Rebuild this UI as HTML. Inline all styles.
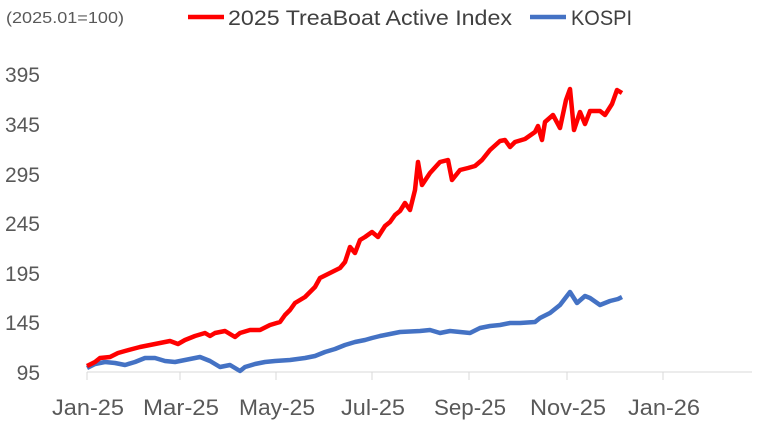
<!DOCTYPE html>
<html><head><meta charset="utf-8"><style>
body{margin:0;background:#fff;}
svg{display:block;font-family:"Liberation Sans",sans-serif;}
</style></head><body>
<svg width="776" height="425" viewBox="0 0 776 425">
<text x="6" y="23" font-size="16" fill="#595959" textLength="118" lengthAdjust="spacingAndGlyphs">(2025.01=100)</text>
<line x1="188" y1="17" x2="224" y2="17" stroke="#ff0000" stroke-width="4.5"/>
<text x="228" y="25" font-size="21" fill="#404040" textLength="284" lengthAdjust="spacingAndGlyphs">2025 TreaBoat Active Index</text>
<line x1="530" y1="17" x2="566" y2="17" stroke="#4472c4" stroke-width="4.5"/>
<text x="571" y="25" font-size="21" fill="#404040" textLength="61" lengthAdjust="spacingAndGlyphs">KOSPI</text>
<g font-size="21" fill="#595959" text-anchor="end">
<text x="40" y="380">95</text>
<text x="40" y="330">145</text>
<text x="40" y="281">195</text>
<text x="40" y="231">245</text>
<text x="40" y="182">295</text>
<text x="40" y="132">345</text>
<text x="40" y="82">395</text>
</g>
<line x1="87" y1="372" x2="752" y2="372" stroke="#d9d9d9" stroke-width="1"/>
<g stroke="#d9d9d9" stroke-width="1">
<line x1="87" y1="372" x2="87" y2="380"/><line x1="180" y1="372" x2="180" y2="380"/>
<line x1="276" y1="372" x2="276" y2="380"/><line x1="372" y1="372" x2="372" y2="380"/>
<line x1="469" y1="372" x2="469" y2="380"/><line x1="567" y1="372" x2="567" y2="380"/>
<line x1="663" y1="372" x2="663" y2="380"/>
</g>
<g font-size="22" fill="#595959" text-anchor="middle">
<text x="88" y="415" textLength="72" lengthAdjust="spacingAndGlyphs">Jan-25</text><text x="181" y="415" textLength="76" lengthAdjust="spacingAndGlyphs">Mar-25</text>
<text x="277" y="415" textLength="76" lengthAdjust="spacingAndGlyphs">May-25</text><text x="373" y="415" textLength="64" lengthAdjust="spacingAndGlyphs">Jul-25</text>
<text x="470" y="415" textLength="72" lengthAdjust="spacingAndGlyphs">Sep-25</text><text x="568" y="415" textLength="76" lengthAdjust="spacingAndGlyphs">Nov-25</text>
<text x="664" y="415" textLength="72" lengthAdjust="spacingAndGlyphs">Jan-26</text>
</g>
<polyline fill="none" stroke="#4472c4" stroke-width="4.5" stroke-linejoin="round" points="87,368 95,364 105,362 115,363 125,365 135,362 145,358 155,358 165,361 175,362 185,360 200,357 210,361 220,367 230,365 240,371 245,367 255,364 265,362 275,361 290,360 305,358 315,356 325,352 335,349 345,345 355,342 365,340 372,338 380,336 390,334 400,332 420,331 430,330 440,333 450,331 460,332 470,333 480,328 490,326 500,325 510,323 520,323 535,322 540,318 550,313 560,305 570,292 577,303 585,296 590,298 600,305 605,303 610,301 618,299 622,297"/>
<polyline fill="none" stroke="#ff0000" stroke-width="4.5" stroke-linejoin="round" points="87,366 95,362 100,358 110,357 118,353 125,351 140,347 150,345 160,343 170,341 178,344 185,340 195,336 205,333 210,336 215,333 225,331 235,337 240,333 250,330 260,330 270,325 280,322 285,315 290,310 295,303 305,297 315,287 320,278 330,273 340,268 345,262 350,247 355,253 360,240 365,237 372,232 378,237 385,226 390,222 395,215 400,211 405,203 410,210 415,190 418,162 422,185 430,173 440,162 448,160 452,180 460,170 468,168 475,166 482,160 490,150 500,141 505,140 510,147 515,142 525,139 535,132 538,126 542,140 545,122 553,115 560,128 566,100 570,89 574,130 580,112 585,124 590,111 600,111 605,115 612,104 617,90 622,93"/>
</svg>
</body></html>
